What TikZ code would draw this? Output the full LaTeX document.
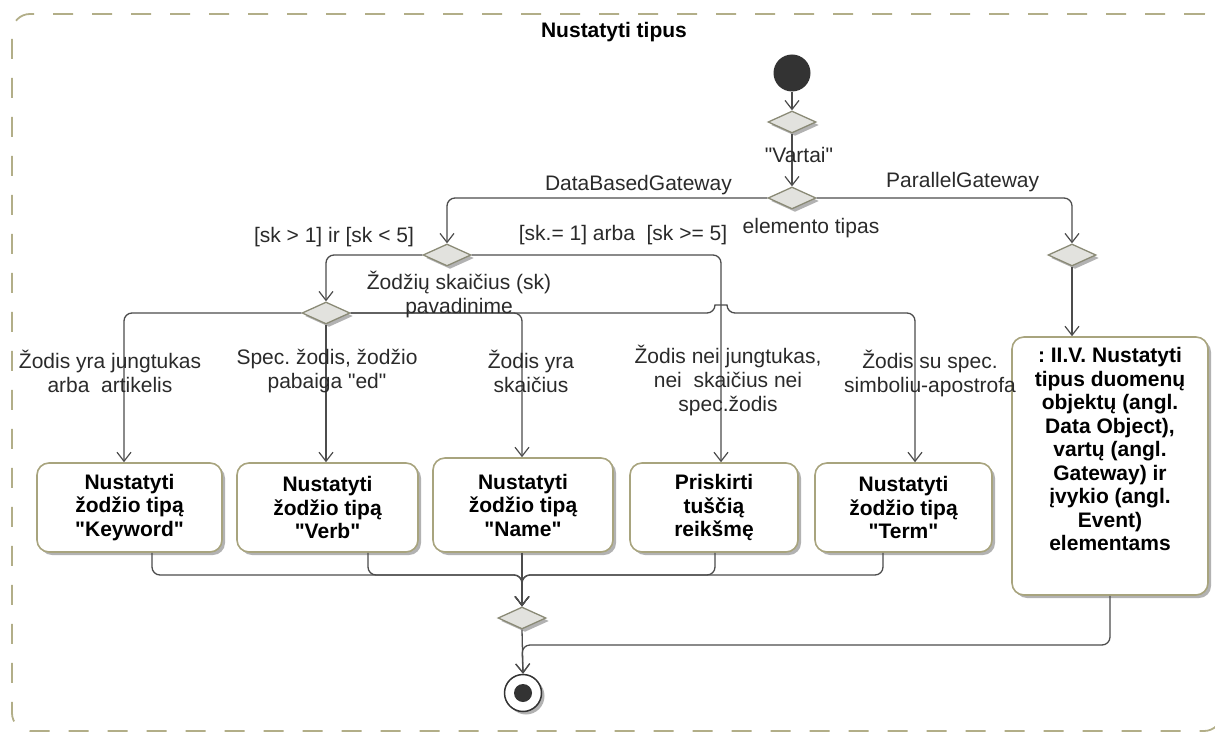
\documentclass[tikz,border=0pt]{standalone}
\usepackage{fontspec}
\setmainfont{Liberation Sans}[Ligatures=TeXOff]
\frenchspacing
\usetikzlibrary{shapes.geometric,arrows.meta,shadows}

\definecolor{framecol}{HTML}{B2AE88}
\definecolor{edgecol}{HTML}{4C4C4C}
\definecolor{boxborder}{HTML}{A8A47E}
\definecolor{diafill}{HTML}{E2E2DE}
\definecolor{diaborder}{HTML}{8A8A76}
\definecolor{labelcol}{HTML}{2A2A2A}
\definecolor{dotcol}{HTML}{333333}

\tikzset{
  flow/.style={draw=edgecol, line width=1.3pt, rounded corners=8pt},
  arr/.style={flow, -{Straight Barb[length=9pt,width=14pt,line width=1.2pt]}},
  softshadow/.style={drop shadow={shadow xshift=3pt, shadow yshift=-3pt, opacity=0.3, fill=black}},
  gate/.style={diamond, draw=diaborder, fill=diafill, line width=1.3pt,
    minimum width=48pt, minimum height=22pt, inner sep=0pt, softshadow},
  actbox/.style={rectangle, rounded corners=12pt, draw=boxborder, fill=white,
    line width=1.6pt, align=center, text=black, inner sep=2pt,
    font=\bfseries\fontsize{21}{23.5}\selectfont, softshadow},
  guard/.style={font=\fontsize{21}{24}\selectfont, text=labelcol, align=center, inner sep=0pt},
  frame/.style={rectangle, draw=framecol, line width=1.8pt, rounded corners=18pt,
    dash pattern=on 20pt off 19pt},
}

\begin{document}
\begin{tikzpicture}[x=1pt,y=-1pt]
\useasboundingbox (0,0) rectangle (1215,733);

% activity frame (its right side runs past the page edge) and its name
\node[frame, minimum width=1210pt, minimum height=717pt] (frame) at (617,372.5) {};
\node[font=\bfseries\fontsize{21}{23}\selectfont, inner sep=0pt] (title) at (614,32) {Nustatyti tipus};

% initial and final nodes
\node[circle, fill=dotcol, minimum size=37pt, inner sep=0pt] (start) at (792,73) {};
\node[circle, draw=dotcol, fill=white, line width=1.5pt, minimum size=37pt, inner sep=0pt, softshadow] (final) at (523,693) {};
\node[circle, fill=dotcol, minimum size=18pt, inner sep=0pt] (finaldot) at (final.center) {};

% decision / merge nodes
\node[gate] (g1) at (792,122) {};
\node[gate] (g2) at (792,198) {};
\node[gate] (g3) at (447,255) {};
\node[gate] (g4) at (1072,255) {};
\node[gate] (g5) at (326,313) {};
\node[gate] (g6) at (522,618) {};

% actions
\node[actbox, minimum width=185pt, minimum height=89pt] (act1) at (129.5,507.5)
  {Nustatyti\\žodžio tipą\\"Keyword"};
\node[actbox, minimum width=181pt, minimum height=89pt] (act2) at (327.5,507.5)
  {Nustatyti\\žodžio tipą\\"Verb"};
\node[actbox, minimum width=180pt, minimum height=94pt] (act3) at (523,505)
  {Nustatyti\\žodžio tipą\\"Name"};
\node[actbox, minimum width=168pt, minimum height=89pt] (act4) at (714,507.5)
  {Priskirti\\tuščią\\reikšmę};
\node[actbox, minimum width=177pt, minimum height=89pt] (act5) at (903.5,507.5)
  {Nustatyti\\žodžio tipą\\"Term"};
\node[actbox, minimum width=196pt, minimum height=258pt] (act6) at (1110,466)
  {: II.V. Nustatyti\\tipus duomenų\\objektų (angl.\\Data Object),\\vartų (angl.\\Gateway) ir\\įvykio (angl.\\Event)\\elementams\\[10pt]\mbox{}};

% control flow
\draw[arr] (start) -- (g1);
\draw[arr] (g1) -- (g2);
\draw[arr] (g2.west) -| (g3.north);
\draw[arr] (g2.east) -| (g4.north);
\draw[arr] (g4.south) -- (g4.south |- act6.north);
\draw[arr] (g3.west) -| (g5.north);
\draw[arr] (g3.east) -| ([xshift=7pt]act4.north);
\draw[arr] (g5.west) -| ([xshift=-5.5pt]act1.north);
\draw[arr] (g5.south) -- (g5.south |- act2.north);
\draw[arr] (g5.east) -| ([xshift=-1pt]act3.north);
\coordinate (hopL) at (715,313);
\coordinate (hopR) at (727,313);
\draw[arr] (g5.east) -- (hopL) .. controls (715,305) and (727,305) .. (hopR)
  -| ([xshift=11.5pt]act5.north);

% merging the five branches
\coordinate (join) at (522,575);
\draw[arr] ([xshift=22.5pt]act1.south) |- (join) -- (g6.north);
\draw[arr] ([xshift=40.5pt]act2.south) |- (join) -- (g6.north);
\draw[arr] ([xshift=-1pt]act3.south) -- (g6.north);
\draw[arr] ([xshift=1pt]act4.south) |- (join) -- (g6.north);
\draw[arr] ([xshift=-20.5pt]act5.south) |- (join) -- (g6.north);
\coordinate (join2) at (522,645);
\draw[arr] (g6.south) -- (final.north);
\draw[arr] (act6.south) |- (join2) -- (final.north);

% guards and decision labels
\node[guard] (lvartai) at (799,155) {"Vartai"};
\node[guard] (ltipas) at (811,228) {elemento tipas};
\node[guard, anchor=east] (ldata) at (732,185) {DataBasedGateway};
\node[guard, anchor=west] (lpar) at (886,182) {ParallelGateway};
\node[guard] (lsk1) at (334,237) {[sk > 1] ir [sk < 5]};
\node[guard] (lsk2) at (623,235) {[sk.= 1] arba\ \ [sk >= 5]};
\node[guard] (lcount) at (459,294) {Žodžių skaičius (sk)\\pavadinime};
\node[guard] (lkey) at (110,371) {Žodis yra jungtukas\\arba\ \ artikelis};
\node[guard] (lverb) at (327,371) {Spec. žodis, žodžio\\pabaiga "ed"};
\node[guard] (lname) at (531,371) {Žodis yra\\skaičius};
\node[guard] (lnone) at (728,380) {Žodis nei jungtukas,\\nei\ \ skaičius nei\\spec.žodis};
\node[guard] (lterm) at (930,373) {Žodis su spec.\\simboliu-apostrofa};
\end{tikzpicture}
\end{document}
